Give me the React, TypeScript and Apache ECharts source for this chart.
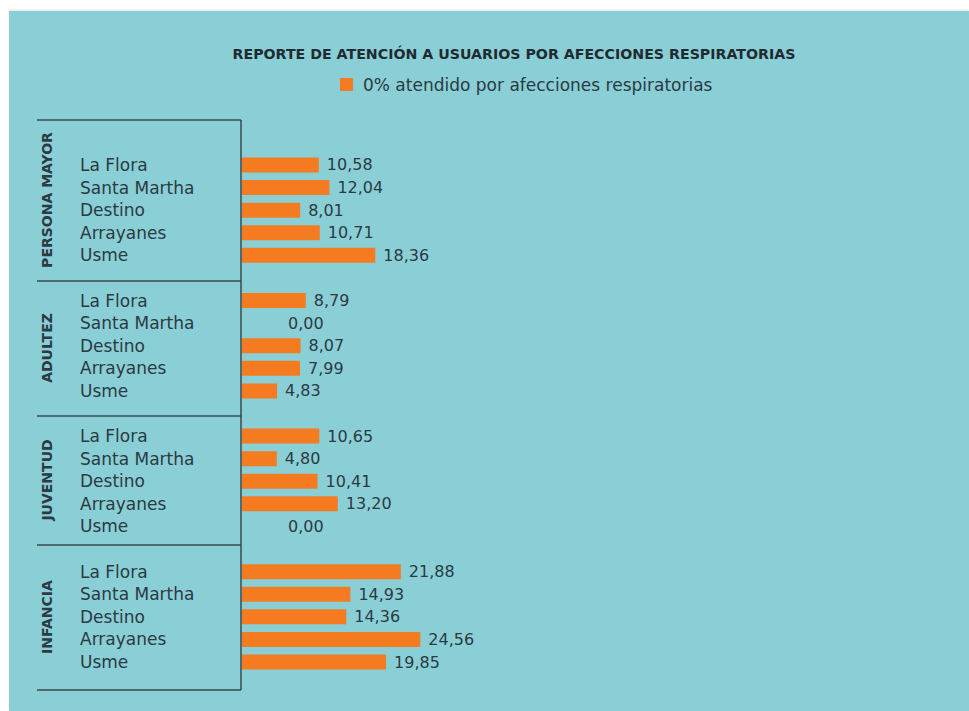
import React, { useEffect, useRef } from 'react';
import * as echarts from 'echarts';

const chartTitle = 'REPORTE DE ATENCIÓN A USUARIOS POR AFECCIONES RESPIRATORIAS';
const seriesName = '0% atendido por afecciones respiratorias';
const groups = ['PERSONA MAYOR', 'ADULTEZ', 'JUVENTUD', 'INFANCIA'];
const sites = ['La Flora', 'Santa Martha', 'Destino', 'Arrayanes', 'Usme'];
const personaMayor = [10.58, 12.04, 8.01, 10.71, 18.36];
const adultez = [8.79, 0.0, 8.07, 7.99, 4.83];
const juventud = [10.65, 4.8, 10.41, 13.2, 0.0];
const infancia = [21.88, 14.93, 14.36, 24.56, 19.85];

const TEAL = '#8acfd6';
const ORANGE = '#f47b20';
const INK = '#2b3a43';
const LINE = '#3b4a50';
const FONT = "'DejaVu Sans', sans-serif";

export default function App() {
  const ref = useRef<HTMLDivElement>(null);
  useEffect(() => {
    if (!ref.current) return;
    const chart = echarts.init(ref.current, null, { renderer: 'svg' });
    const groupValues = [personaMayor, adultez, juventud, infancia];
    const categories: string[] = [];
    const data: any[] = [];
    groupValues.forEach((vals, gi) => {
      if (gi > 0) {
        categories.push('gap' + gi);
        data.push('-');
      }
      vals.forEach((v, i) => {
        categories.push(gi + '|' + sites[i]);
        data.push(v === 0 ? { value: v, label: { distance: 46 } } : v);
      });
    });

    // layout (chart coordinates)
    const gridLeft = 233;
    const gridTop = 142.7;
    const gridH = 519.6;
    const boxLeft = 28;
    const boxRight = 232;
    const sepYs = [109, 270, 405, 534, 679];
    const groupCenters = [189, 337, 469, 606];

    const graphics: any[] = [];
    sepYs.forEach((y) => {
      graphics.push({
        type: 'line',
        shape: { x1: boxLeft, y1: y, x2: boxRight, y2: y },
        style: { stroke: LINE, lineWidth: 1.5 },
        silent: true,
      });
    });
    graphics.push({
      type: 'line',
      shape: { x1: boxRight, y1: sepYs[0], x2: boxRight, y2: sepYs[sepYs.length - 1] },
      style: { stroke: LINE, lineWidth: 1.5 },
      silent: true,
    });
    groups.forEach((g, i) => {
      graphics.push({
        type: 'text',
        x: 38,
        y: groupCenters[i],
        rotation: Math.PI / 2,
        silent: true,
        style: {
          text: g,
          fill: INK,
          fontSize: 14,
          fontWeight: 'bold',
          fontFamily: 'DejaVu Sans',
          align: 'center',
          verticalAlign: 'middle',
          textAlign: 'center',
          textVerticalAlign: 'middle',
        },
      });
    });

    chart.setOption({
      animation: false,
      backgroundColor: TEAL,
      title: {
        text: chartTitle,
        left: 500,
        top: 31,
        textAlign: 'center',
        textStyle: { fontSize: 14.2, fontWeight: 'bold', fontFamily: 'DejaVu Sans', color: '#1f2b31' },
      },
      legend: {
        left: 326,
        top: 60,
        icon: 'rect',
        itemWidth: 13,
        itemHeight: 13,
        textStyle: { fontSize: 17, color: INK, fontFamily: FONT, padding: [0, 0, 0, 5] },
        data: [seriesName],
      },
      grid: { left: gridLeft, top: gridTop, width: 363, height: gridH, containLabel: false },
      xAxis: {
        type: 'value',
        min: 0,
        max: 50,
        show: false,
      },
      yAxis: {
        type: 'category',
        inverse: true,
        data: categories,
        axisLine: { show: false },
        axisTick: { show: false },
        splitLine: { show: false },
        axisLabel: {
          align: 'left',
          margin: gridLeft - 71,
          color: INK,
          fontSize: 17,
          fontFamily: FONT,
          formatter: (v: string) => (v.indexOf('|') >= 0 ? v.split('|')[1] : ''),
        },
      },
      series: [
        {
          name: seriesName,
          type: 'bar',
          data,
          barWidth: 15,
          itemStyle: { color: ORANGE },
          label: {
            show: true,
            position: 'right',
            distance: 8,
            color: INK,
            fontSize: 16,
            fontFamily: FONT,
            formatter: (p: any) => Number(p.value).toFixed(2).replace('.', ','),
          },
        },
      ],
      graphic: graphics,
    });
    return () => chart.dispose();
  }, []);

  return (
    <div style={{ position: 'fixed', left: 0, top: 0, width: 969, height: 711, background: '#ffffff' }}>
      <div
        ref={ref}
        style={{ position: 'absolute', left: 9, top: 11, width: 960, height: 700, boxShadow: '0 -1px 2px rgba(0,0,0,0.12)' }}
      />
    </div>
  );
}
